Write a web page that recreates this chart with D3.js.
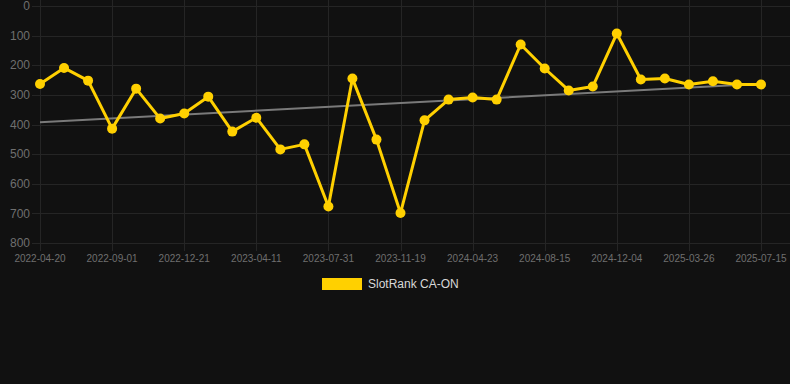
<!DOCTYPE html>
<html>
<head>
<meta charset="utf-8">
<script src="https://cdn.jsdelivr.net/npm/d3@7"></script>
<style>
  html, body { margin: 0; padding: 0; background: #111111; }
  svg { display: block; }
</style>
</head>
<body>
<svg id="chart"></svg>
<script>
// dates of each sample (category axis)
const dates = [
    "2022-04-20", "2022-06-04", "2022-07-18", "2022-09-01", "2022-10-08", "2022-11-14",
    "2022-12-21", "2023-01-27", "2023-03-05", "2023-04-11", "2023-05-18", "2023-06-24",
    "2023-07-31", "2023-09-06", "2023-10-13", "2023-11-19", "2024-01-10", "2024-03-02",
    "2024-04-23", "2024-05-31", "2024-07-08", "2024-08-15", "2024-09-21", "2024-10-28",
    "2024-12-04", "2025-01-10", "2025-02-17", "2025-03-26", "2025-05-02", "2025-06-08",
    "2025-07-15"
];
// rank values (lower is better)
const ranks = [
    263, 209, 252, 414, 279, 380, 363, 306, 424, 377, 484, 467, 677, 245, 451, 699,
    386, 316, 309, 316, 130, 211, 285, 272, 93, 248, 245, 265, 254, 265, 265
];
const yTicks = [0, 100, 200, 300, 400, 500, 600, 700, 800];
const xTickLabels = [
    "2022-04-20", "2022-09-01", "2022-12-21", "2023-04-11", "2023-07-31", "2023-11-19",
    "2024-04-23", "2024-08-15", "2024-12-04", "2025-03-26", "2025-07-15"
];
const seriesName = "SlotRank CA-ON";

const width = 790, height = 384;
const gold = "#ffd000";
const gridColor = "#252525";
const labelColor = "#6f6f6f";
const fontFamily = "'Liberation Sans', Arial, Helvetica, sans-serif";

const svg = d3.select("#chart")
    .attr("width", width)
    .attr("height", height)
    .attr("font-family", fontFamily);

svg.append("rect").attr("width", width).attr("height", height).attr("fill", "#111111");

const x = d3.scalePoint().domain(dates).range([40, 761]);
const y = d3.scaleLinear().domain([0, 800]).range([6, 243]);

// horizontal grid + y labels
const gy = svg.append("g");
gy.selectAll("line")
    .data(yTicks)
    .join("line")
    .attr("x1", 32).attr("x2", width)
    .attr("y1", d => Math.round(y(d)) + 0.5)
    .attr("y2", d => Math.round(y(d)) + 0.5)
    .attr("stroke", gridColor)
    .attr("stroke-width", 1);
gy.selectAll("text")
    .data(yTicks)
    .join("text")
    .attr("x", 30)
    .attr("y", d => y(d))
    .attr("dy", "0.35em")
    .attr("text-anchor", "end")
    .attr("font-size", 12)
    .attr("fill", labelColor)
    .text(d => d);

// vertical grid + x labels
const gx = svg.append("g");
gx.selectAll("line")
    .data(xTickLabels)
    .join("line")
    .attr("x1", d => Math.round(x(d)) + 0.5)
    .attr("x2", d => Math.round(x(d)) + 0.5)
    .attr("y1", 0).attr("y2", 251)
    .attr("stroke", gridColor)
    .attr("stroke-width", 1);
gx.selectAll("text")
    .data(xTickLabels)
    .join("text")
    .attr("x", d => x(d))
    .attr("y", 262)
    .attr("text-anchor", "middle")
    .attr("font-size", 10)
    .attr("fill", labelColor)
    .text(d => d);

// linear trend (least squares over sample index)
const n = ranks.length;
const idx = d3.range(n);
const mx = d3.mean(idx), my = d3.mean(ranks);
const slope = d3.sum(idx, i => (i - mx) * (ranks[i] - my)) / d3.sum(idx, i => (i - mx) ** 2);
const icpt = my - slope * mx;
svg.append("line")
    .attr("x1", x(dates[0])).attr("y1", y(icpt))
    .attr("x2", x(dates[n - 1])).attr("y2", y(icpt + slope * (n - 1)))
    .attr("stroke", "#7a7a7a")
    .attr("stroke-width", 2);

// series line
svg.append("path")
    .datum(ranks)
    .attr("fill", "none")
    .attr("stroke", gold)
    .attr("stroke-width", 3)
    .attr("stroke-linejoin", "round")
    .attr("d", d3.line().x((d, i) => x(dates[i])).y(d => y(d)));

svg.append("g")
    .selectAll("circle")
    .data(ranks)
    .join("circle")
    .attr("cx", (d, i) => x(dates[i]))
    .attr("cy", d => y(d))
    .attr("r", 5)
    .attr("fill", gold);

// legend
const legend = svg.append("g");
legend.append("rect")
    .attr("x", 322).attr("y", 278)
    .attr("width", 40).attr("height", 12)
    .attr("fill", gold);
legend.append("text")
    .attr("x", 368).attr("y", 284)
    .attr("dy", "0.35em")
    .attr("font-size", 12)
    .attr("fill", "#d8d8d8")
    .text(seriesName);
</script>
</body>
</html>
